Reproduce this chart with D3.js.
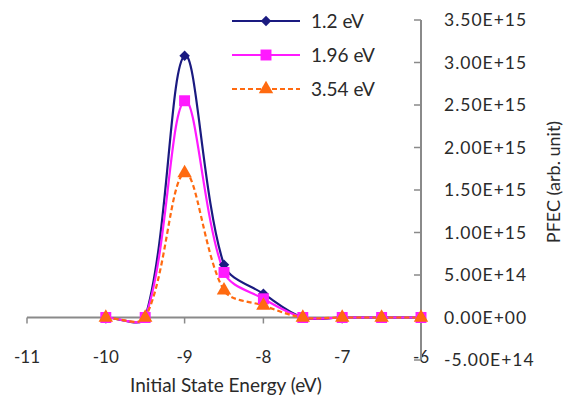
<!DOCTYPE html>
<html>
<head>
<meta charset="utf-8">
<script src="https://cdn.jsdelivr.net/npm/d3@7"></script>
<style>
  body { margin: 0; background: #fff; }
  text { font-family: Lato, "Open Sans", sans-serif; fill: #2a2a2a; }
</style>
</head>
<body>
<script>
// data
const energies = [-10, -9.5, -9, -8.5, -8, -7.5, -7, -6.5, -6];
const seriesNames = ["1.2 eV", "1.96 eV", "3.54 eV"];
const pfec12 = [0, 0, 3.08e15, 0.62e15, 0.28e15, 0, 0, 0, 0];
const pfec196 = [0, 0, 2.55e15, 0.53e15, 0.22e15, 0, 0, 0, 0];
const pfec354 = [0, 0, 1.70e15, 0.32e15, 0.14e15, 0, 0, 0, 0];
const xTicks = [-11, -10, -9, -8, -7, -6];
const yTicks = [-5e14, 0, 5e14, 1e15, 1.5e15, 2e15, 2.5e15, 3e15, 3.5e15];
const yTickLabels = ["-5.00E+14", "0.00E+00", "5.00E+14", "1.00E+15", "1.50E+15",
                     "2.00E+15", "2.50E+15", "3.00E+15", "3.50E+15"];

const w = 572, h = 412;
const svg = d3.select("body").append("svg").attr("width", w).attr("height", h);

const x = d3.scaleLinear().domain([-11, -6]).range([27, 421]);
const y = d3.scaleLinear().domain([-5e14, 3.5e15]).range([360, 20]);

const series = [
  {name: seriesNames[0], values: pfec12, color: "#1a1a80", dash: null, marker: d3.symbolSquare, rot: 45, size: 55},
  {name: seriesNames[1], values: pfec196, color: "#ff1aff", dash: null, marker: d3.symbolSquare, rot: 0, size: 120},
  {name: seriesNames[2], values: pfec354, color: "#ff6a10", dash: "5,3", marker: d3.symbolTriangle, rot: 0, size: 90}
];

// spreadsheet-style smoothing: catmull-rom tangents, scaled by segment length
function smoothCurve(context) {
  let pts;
  const dist = (a, b) => Math.hypot(b[0] - a[0], b[1] - a[1]);
  return {
    areaStart() {}, areaEnd() {},
    lineStart() { pts = []; },
    point(px, py) { pts.push([+px, +py]); },
    lineEnd() {
      const n = pts.length;
      if (!n) return;
      context.moveTo(pts[0][0], pts[0][1]);
      for (let i = 0; i < n - 1; i++) {
        const p0 = pts[Math.max(i - 1, 0)], p1 = pts[i], p2 = pts[i + 1], p3 = pts[Math.min(i + 2, n - 1)];
        const d01 = dist(p0, p1), d12 = dist(p1, p2), d23 = dist(p2, p3);
        const s1 = d01 + d12 ? 2 * d12 / (d01 + d12) : 1;
        const s2 = d12 + d23 ? 2 * d12 / (d12 + d23) : 1;
        context.bezierCurveTo(
          p1[0] + (p2[0] - p0[0]) / 6 * s1, p1[1] + (p2[1] - p0[1]) / 6 * s1,
          p2[0] - (p3[0] - p1[0]) / 6 * s2, p2[1] - (p3[1] - p1[1]) / 6 * s2,
          p2[0], p2[1]);
      }
    }
  };
}

// x axis at y = 0
svg.append("line")
   .attr("x1", x(-11)).attr("x2", x(-6))
   .attr("y1", y(0)).attr("y2", y(0))
   .attr("stroke", "#8a8a8a").attr("stroke-width", 2);
svg.selectAll(".xt").data(xTicks).enter().append("line")
   .attr("x1", d => x(d)).attr("x2", d => x(d))
   .attr("y1", y(0)).attr("y2", y(0) + 6)
   .attr("stroke", "#8a8a8a").attr("stroke-width", 1.5);
svg.selectAll(".xl").data(xTicks).enter().append("text")
   .attr("x", d => x(d)).attr("y", 363)
   .attr("text-anchor", "middle").attr("font-size", 17)
   .text(d => d);

// y axis on the right, at x = -6
svg.append("line")
   .attr("x1", x(-6)).attr("x2", x(-6))
   .attr("y1", y(3.5e15)).attr("y2", y(-5e14))
   .attr("stroke", "#8a8a8a").attr("stroke-width", 2);
svg.selectAll(".yt").data(yTicks).enter().append("line")
   .attr("x1", x(-6) - 7).attr("x2", x(-6))
   .attr("y1", d => y(d)).attr("y2", d => y(d))
   .attr("stroke", "#8a8a8a").attr("stroke-width", 1.5);
svg.selectAll(".yl").data(yTicks).enter().append("text")
   .attr("x", 444).attr("y", d => y(d) + 6)
   .attr("font-size", 17.5).attr("letter-spacing", 1)
   .text((d, i) => yTickLabels[i]);

// axis titles
svg.append("text")
   .attr("x", 226).attr("y", 392)
   .attr("text-anchor", "middle").attr("font-size", 19)
   .text("Initial State Energy (eV)");
svg.append("text")
   .attr("transform", "translate(560,182) rotate(-90)")
   .attr("text-anchor", "middle").attr("font-size", 18)
   .text("PFEC (arb. unit)");

// series
const line = d3.line()
  .x((d, i) => x(energies[i]))
  .y(d => y(d))
  .curve(smoothCurve);

series.forEach(s => {
  svg.append("path")
     .datum(s.values)
     .attr("d", line)
     .attr("fill", "none")
     .attr("stroke", s.color)
     .attr("stroke-width", 2.2)
     .attr("stroke-dasharray", s.dash);
});
series.forEach(s => {
  svg.selectAll(null).data(s.values).enter().append("path")
     .attr("d", d3.symbol().type(s.marker).size(s.size))
     .attr("transform", (d, i) => `translate(${x(energies[i])},${y(d)}) rotate(${s.rot})`)
     .attr("fill", s.color);
});

// legend
const legend = svg.append("g");
series.forEach((s, i) => {
  const ly = 21 + i * 34;
  legend.append("line")
     .attr("x1", 232).attr("x2", 300).attr("y1", ly).attr("y2", ly)
     .attr("stroke", s.color).attr("stroke-width", 2.2)
     .attr("stroke-dasharray", s.dash);
  legend.append("path")
     .attr("d", d3.symbol().type(s.marker).size(s.size)())
     .attr("transform", `translate(266,${ly}) rotate(${s.rot})`)
     .attr("fill", s.color);
  legend.append("text")
     .attr("x", 311).attr("y", ly + 7)
     .attr("font-size", 19)
     .text(s.name);
});
</script>
</body>
</html>
